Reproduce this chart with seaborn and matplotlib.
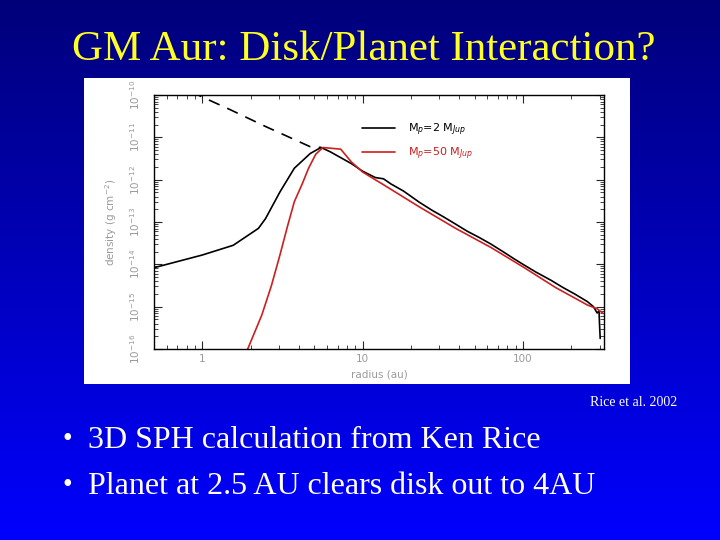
import numpy as np
import pandas as pd
import matplotlib
matplotlib.use("Agg")
import matplotlib.pyplot as plt
import seaborn as sns
from matplotlib.patches import Rectangle

# radius (au) and log10 surface density
r_dash = [0.5, 0.94, 1.5, 2.5, 3.5, 4.7, 5.5]
logs_dash = [-9.55, -10.0, -10.35, -10.75, -11.0, -11.22, -11.24]

r_black = [0.5, 1.0, 1.56, 2.24, 2.48, 3.05, 3.75, 4.72, 5.5, 6.27, 8.5, 10, 12, 13.5,
           15, 18, 22.5, 27, 32, 38, 45, 53, 63, 75, 88, 100, 120, 150, 178, 210,
           252, 275, 290, 298, 300, 303]
logs_black = [-14.08, -13.78, -13.55, -13.15, -12.92, -12.29, -11.73, -11.38, -11.24,
              -11.34, -11.62, -11.80, -11.95, -11.98, -12.10, -12.27, -12.53, -12.72,
              -12.88, -13.05, -13.22, -13.36, -13.52, -13.70, -13.87, -14.00, -14.18,
              -14.38, -14.55, -14.70, -14.88, -15.00, -15.15, -15.10, -15.40, -15.75]

r_red = [1.92, 2.35, 2.7, 3.05, 3.4, 3.75, 4.2, 4.6, 5.1, 5.65, 7.3, 8.5, 10, 13.5,
         22.5, 38, 63, 100, 160, 252, 290, 316]
logs_red = [-16.0, -15.2, -14.5, -13.78, -13.1, -12.52, -12.1, -11.73, -11.4, -11.24,
            -11.28, -11.58, -11.82, -12.12, -12.64, -13.15, -13.6, -14.06, -14.55,
            -14.96, -15.05, -15.16]

labels = ["M$_p$=2 M$_{Jup}$", "M$_p$=50 M$_{Jup}$"]
ytick_vals = [1e-16, 1e-15, 1e-14, 1e-13, 1e-12, 1e-11, 1e-10]

sns.set_style("ticks")
plt.rcParams['font.family'] = ['DejaVu Sans']

fig = plt.figure(figsize=(7.2, 5.4), dpi=100)

# slide background: navy at top to bright blue at the bottom
bg = fig.add_axes([0, 0, 1, 1])
grad = np.linspace(0, 1, 256).reshape(-1, 1)
cmap = matplotlib.colors.LinearSegmentedColormap.from_list("slide", ["#00007a", "#0000ff"])
bg.imshow(grad, aspect="auto", cmap=cmap, extent=[0, 1, 0, 1], origin="upper")
bg.set_xlim(0, 1)
bg.set_ylim(0, 1)
bg.axis("off")

# white box behind the embedded plot
fig.patches.append(Rectangle((84 / 720, 1 - 384 / 540), 546 / 720, 306 / 540,
                             transform=fig.transFigure, facecolor="white",
                             edgecolor="none", zorder=1))

fig.text(364 / 720, 1 - 50 / 540, "GM Aur: Disk/Planet Interaction?", ha="center",
         va="center", color="#ffff22", fontsize=31, family="Liberation Serif")
fig.text(677 / 720, 1 - 402 / 540, "Rice et al. 2002", ha="right", va="center",
         color="white", fontsize=10, family="Liberation Serif")
fig.text(62 / 720, 1 - 440 / 540, "\u2022", ha="left", va="center", color="white",
         fontsize=20, family="Liberation Serif")
fig.text(88 / 720, 1 - 441 / 540, "3D SPH calculation from Ken Rice", ha="left",
         va="center", color="white", fontsize=23, family="Liberation Serif")
fig.text(62 / 720, 1 - 486 / 540, "\u2022", ha="left", va="center", color="white",
         fontsize=20, family="Liberation Serif")
fig.text(88 / 720, 1 - 487 / 540, "Planet at 2.5 AU clears disk out to 4AU", ha="left",
         va="center", color="white", fontsize=23, family="Liberation Serif")

ax = fig.add_axes([154 / 720, 1 - 349 / 540, 450 / 720, 254 / 540], zorder=2)
ax.set_facecolor("white")

df_dash = pd.DataFrame({"r": r_dash, "s": 10.0 ** np.array(logs_dash)})
df_black = pd.DataFrame({"r": r_black, "s": 10.0 ** np.array(logs_black)})
df_red = pd.DataFrame({"r": r_red, "s": 10.0 ** np.array(logs_red)})

sns.lineplot(data=df_dash, x="r", y="s", ax=ax, color="black", lw=1.2,
             linestyle=(0, (7, 5)), sort=False)
sns.lineplot(data=df_black, x="r", y="s", ax=ax, color="black", lw=1.2, sort=False,
             label=labels[0])
sns.lineplot(data=df_red, x="r", y="s", ax=ax, color="#cc1f1f", lw=1.2, sort=False,
             label=labels[1])

ax.set_xscale("log")
ax.set_yscale("log")
ax.set_xlim(0.5, 320)
ax.set_ylim(1e-16, 1e-10)
ax.set_yticks(ytick_vals)
ax.set_xticks([1, 10, 100])
ax.set_xticklabels(["1", "10", "100"])

for s in ax.spines.values():
    s.set_visible(True)
    s.set_linewidth(1.0)
    s.set_color("black")

ax.tick_params(which="both", direction="in", top=True, right=True,
               labelsize=7.5, labelcolor="#9a9a9a")
ax.tick_params(which="major", length=6)
ax.tick_params(which="minor", length=3)
ax.tick_params(axis="y", labelrotation=90, pad=9)
for t in ax.get_yticklabels():
    t.set_va("center")

ax.set_xlabel("radius (au)", color="#9a9a9a", fontsize=7.5, labelpad=4)
ax.set_ylabel("density (g cm$^{-2}$)", color="#9a9a9a", fontsize=7.5, labelpad=6)

ax.legend(frameon=False, loc="upper left", bbox_to_anchor=(0.44, 0.935),
          handlelength=3.0, handletextpad=1.1, labelspacing=0.7,
          fontsize=8, labelcolor="linecolor")

fig.savefig("out.png", dpi=100)
